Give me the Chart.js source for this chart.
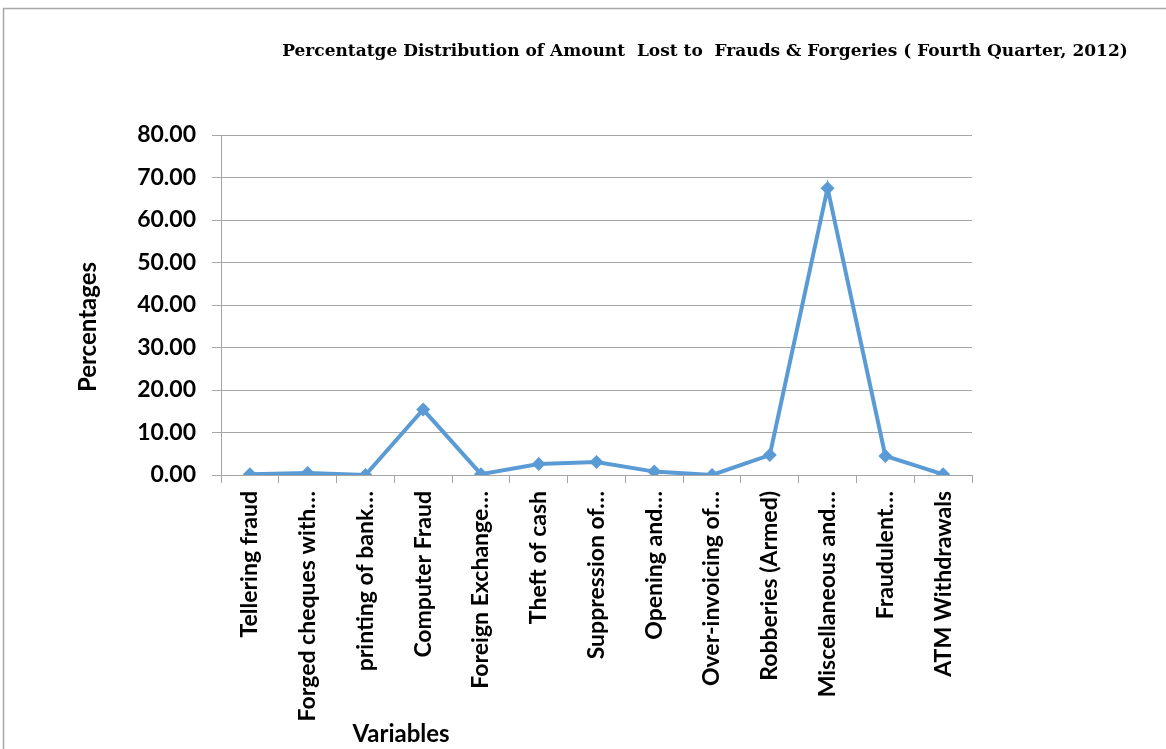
<!DOCTYPE html>
<html>
<head>
<meta charset="utf-8">
<script src="https://cdn.jsdelivr.net/npm/chart.js@4/dist/chart.umd.min.js"></script>
<style>
  html, body { margin: 0; padding: 0; background: #ffffff; }
  #wrap { position: relative; width: 1166px; height: 749px; }
</style>
</head>
<body>
<div id="wrap"><canvas id="chart" width="1166" height="749"></canvas></div>
<script>
// Fraud categories (labels as printed on the axis)
const categories = [
  'Tellering fraud',
  'Forged cheques with\u2026',
  'printing of bank\u2026',
  'Computer Fraud',
  'Foreign Exchange\u2026',
  'Theft of cash',
  'Suppression of\u2026',
  'Opening and\u2026',
  'Over-invoicing of\u2026',
  'Robberies (Armed)',
  'Miscellaneous and\u2026',
  'Fraudulent\u2026',
  'ATM Withdrawals'
];

// Share of amount lost, percent
const percentages = [0.15, 0.45, 0.0, 15.4, 0.2, 2.6, 3.05, 0.8, 0.0, 4.7, 67.5, 4.5, 0.16];

// Y axis range and step
const yMin = 0;
const yMax = 80;
const yStep = 10;

const chartTitle = 'Percentatge Distribution of Amount  Lost to  Frauds & Forgeries ( Fourth Quarter, 2012)';
const xTitle = 'Variables';
const yTitle = 'Percentages';

const LINE = '#5b9bd5';
const GRID = '#a6a6a6';
const LABEL_FONT = 'Lato, "Open Sans", sans-serif';

// Outer frame, chart heading and axis captions
const decorations = {
  id: 'decorations',
  beforeDraw(chart) {
    const ctx = chart.ctx;
    ctx.save();
    ctx.fillStyle = '#ffffff';
    ctx.fillRect(0, 0, chart.width, chart.height);
    ctx.strokeStyle = GRID;
    ctx.lineWidth = 1.5;
    ctx.beginPath();
    ctx.moveTo(3.5, chart.height);
    ctx.lineTo(3.5, 8.5);
    ctx.lineTo(chart.width, 8.5);
    ctx.stroke();
    ctx.restore();
  },
  afterDraw(chart) {
    const ctx = chart.ctx;
    ctx.save();
    ctx.fillStyle = '#000000';
    ctx.textBaseline = 'middle';
    ctx.textAlign = 'center';
    ctx.font = 'bold 17px "DejaVu Serif", serif';
    ctx.fillText(chartTitle, 705, 52);
    ctx.font = 'bold 24px ' + LABEL_FONT;
    ctx.fillText(xTitle, 401, 734);
    ctx.translate(88, 327);
    ctx.rotate(-Math.PI / 2);
    ctx.fillText(yTitle, 0, 0);
    ctx.restore();
  }
};

new Chart(document.getElementById('chart'), {
  type: 'line',
  data: {
    labels: categories,
    datasets: [{
      data: percentages,
      borderColor: LINE,
      backgroundColor: LINE,
      borderWidth: 4,
      pointStyle: 'rectRot',
      pointRadius: 7,
      pointHoverRadius: 7,
      pointBorderWidth: 0,
      tension: 0,
      fill: false
    }]
  },
  options: {
    responsive: false,
    animation: false,
    events: [],
    layout: { padding: { left: 0, right: 194, top: 135, bottom: 0 } },
    plugins: {
      legend: { display: false },
      title: { display: false },
      tooltip: { enabled: false }
    },
    scales: {
      x: {
        type: 'category',
        offset: true,
        afterFit(scale) { scale.height = 274; },
        grid: {
          offset: true,
          drawOnChartArea: false,
          drawTicks: true,
          tickLength: 8,
          color: GRID,
          lineWidth: 1
        },
        border: { display: true, color: GRID, width: 1 },
        ticks: {
          autoSkip: false,
          maxRotation: 90,
          minRotation: 90,
          padding: 8,
          color: '#000000',
          font: { family: LABEL_FONT, size: 23, weight: 'bold' }
        }
      },
      y: {
        min: yMin,
        max: yMax,
        afterFit(scale) { scale.width = 221; },
        grid: {
          color: GRID,
          lineWidth: 1,
          drawTicks: true,
          tickLength: 9
        },
        border: { display: true, color: GRID, width: 1 },
        ticks: {
          stepSize: yStep,
          padding: 16,
          color: '#000000',
          font: { family: LABEL_FONT, size: 23, weight: 'bold' },
          callback: (v) => Number(v).toFixed(2)
        }
      }
    }
  },
  plugins: [decorations]
});
</script>
</body>
</html>
